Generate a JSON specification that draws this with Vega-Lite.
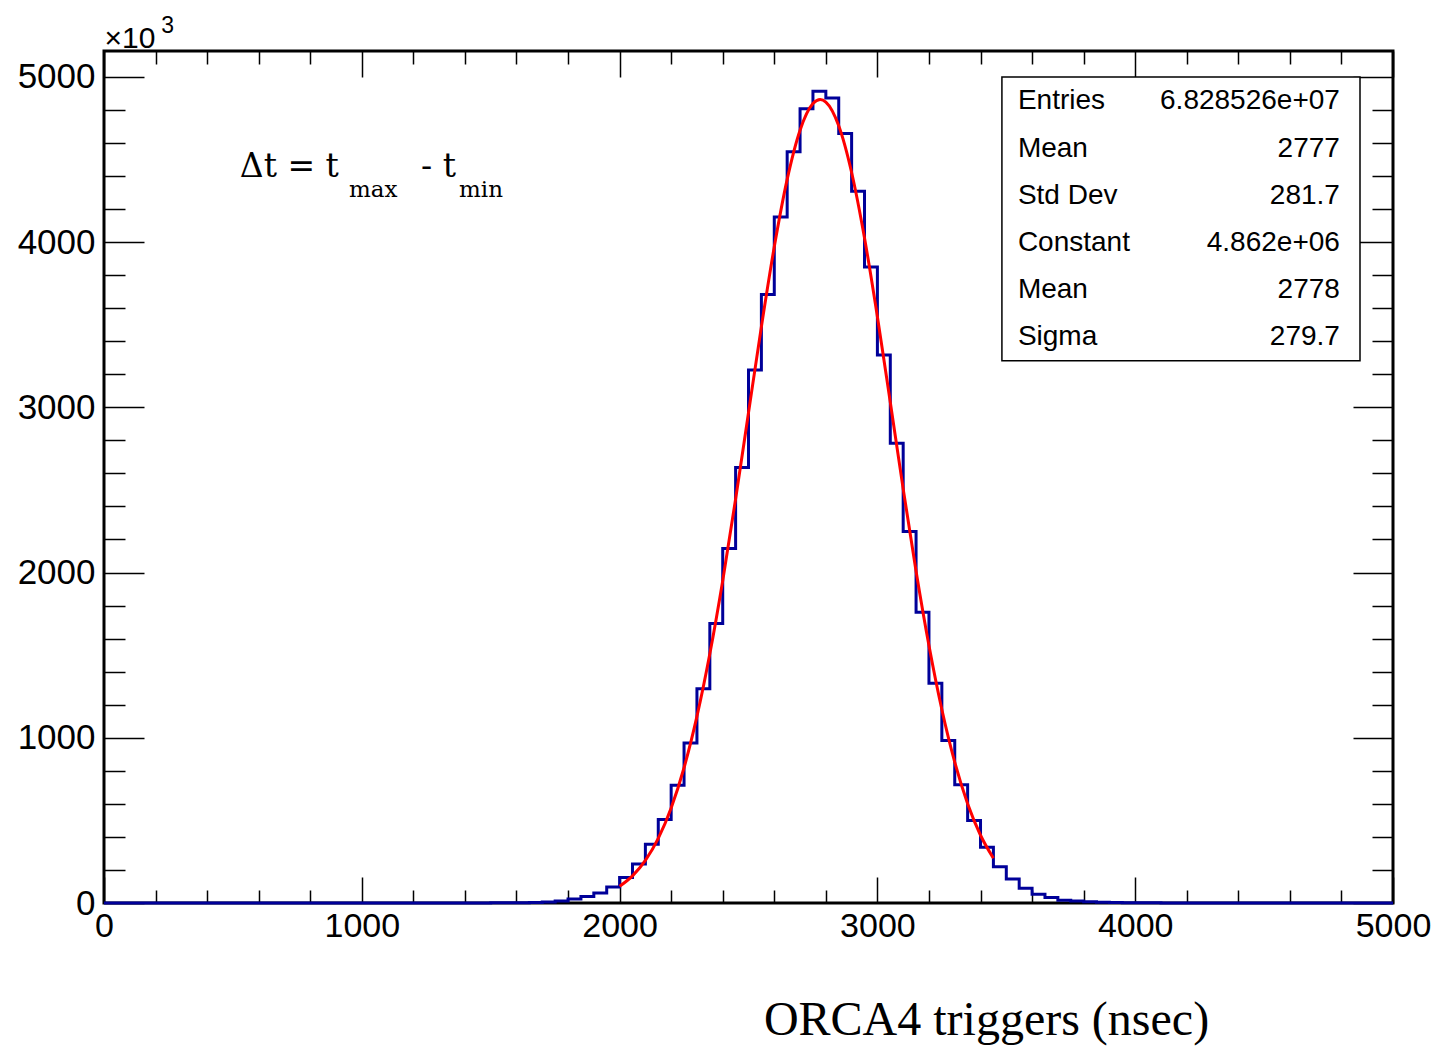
{
  "$schema": "https://vega.github.io/schema/vega-lite/v6.json",
  "width": 1289,
  "height": 852,
  "autosize": {"type": "none"},
  "padding": {"left": 104, "top": 51, "right": 40, "bottom": 148},
  "background": "white",
  "config": {
    "view": {"stroke": "black", "strokeWidth": 3},
    "axis": {"grid": false, "domain": false, "tickColor": "black", "tickWidth": 1.5, "labelColor": "black", "titleColor": "black"}
  },
  "datasets": {
    "hist": [
      {"t": 0, "count": 0}, {"t": 50, "count": 0}, {"t": 100, "count": 0}, {"t": 150, "count": 0}, {"t": 200, "count": 0},
      {"t": 250, "count": 0}, {"t": 300, "count": 0}, {"t": 350, "count": 0}, {"t": 400, "count": 0}, {"t": 450, "count": 0},
      {"t": 500, "count": 0}, {"t": 550, "count": 0}, {"t": 600, "count": 0}, {"t": 650, "count": 0}, {"t": 700, "count": 0},
      {"t": 750, "count": 0}, {"t": 800, "count": 0}, {"t": 850, "count": 0}, {"t": 900, "count": 0}, {"t": 950, "count": 0},
      {"t": 1000, "count": 0}, {"t": 1050, "count": 0}, {"t": 1100, "count": 0}, {"t": 1150, "count": 0}, {"t": 1200, "count": 0},
      {"t": 1250, "count": 0}, {"t": 1300, "count": 0}, {"t": 1350, "count": 0}, {"t": 1400, "count": 0}, {"t": 1450, "count": 0},
      {"t": 1500, "count": 1}, {"t": 1550, "count": 1}, {"t": 1600, "count": 2}, {"t": 1650, "count": 3}, {"t": 1700, "count": 6},
      {"t": 1750, "count": 12}, {"t": 1800, "count": 24}, {"t": 1850, "count": 40}, {"t": 1900, "count": 60}, {"t": 1950, "count": 97},
      {"t": 2000, "count": 155}, {"t": 2050, "count": 236}, {"t": 2100, "count": 356}, {"t": 2150, "count": 505}, {"t": 2200, "count": 713},
      {"t": 2250, "count": 969}, {"t": 2300, "count": 1297}, {"t": 2350, "count": 1692}, {"t": 2400, "count": 2146}, {"t": 2450, "count": 2635},
      {"t": 2500, "count": 3225}, {"t": 2550, "count": 3683}, {"t": 2600, "count": 4152}, {"t": 2650, "count": 4546}, {"t": 2700, "count": 4806},
      {"t": 2750, "count": 4912}, {"t": 2800, "count": 4872}, {"t": 2850, "count": 4657}, {"t": 2900, "count": 4308}, {"t": 2950, "count": 3849},
      {"t": 3000, "count": 3317}, {"t": 3050, "count": 2782}, {"t": 3100, "count": 2248}, {"t": 3150, "count": 1760}, {"t": 3200, "count": 1330},
      {"t": 3250, "count": 983}, {"t": 3300, "count": 715}, {"t": 3350, "count": 499}, {"t": 3400, "count": 338}, {"t": 3450, "count": 220},
      {"t": 3500, "count": 145}, {"t": 3550, "count": 89}, {"t": 3600, "count": 53}, {"t": 3650, "count": 33}, {"t": 3700, "count": 16},
      {"t": 3750, "count": 12}, {"t": 3800, "count": 8}, {"t": 3850, "count": 5}, {"t": 3900, "count": 3}, {"t": 3950, "count": 2},
      {"t": 4000, "count": 1}, {"t": 4050, "count": 1}, {"t": 4100, "count": 0}, {"t": 4150, "count": 0}, {"t": 4200, "count": 0},
      {"t": 4250, "count": 0}, {"t": 4300, "count": 0}, {"t": 4350, "count": 0}, {"t": 4400, "count": 0}, {"t": 4450, "count": 0},
      {"t": 4500, "count": 0}, {"t": 4550, "count": 0}, {"t": 4600, "count": 0}, {"t": 4650, "count": 0}, {"t": 4700, "count": 0},
      {"t": 4750, "count": 0}, {"t": 4800, "count": 0}, {"t": 4850, "count": 0}, {"t": 4900, "count": 0}, {"t": 4950, "count": 0},
      {"t": 5000, "count": 0}
    ],
    "fit": [
      {"t": 2000, "f": 101.5}, {"t": 2050, "f": 164.3}, {"t": 2100, "f": 257.7}, {"t": 2150, "f": 390.9}, {"t": 2200, "f": 574.8},
      {"t": 2250, "f": 818.5}, {"t": 2300, "f": 1128.9}, {"t": 2350, "f": 1507.9}, {"t": 2400, "f": 1950.7}, {"t": 2450, "f": 2444.5},
      {"t": 2500, "f": 2966.7}, {"t": 2550, "f": 3487.6}, {"t": 2600, "f": 3970.7}, {"t": 2650, "f": 4378.7}, {"t": 2700, "f": 4676.6},
      {"t": 2750, "f": 4837.7}, {"t": 2778, "f": 4862}, {"t": 2800, "f": 4847.0}, {"t": 2850, "f": 4703.6}, {"t": 2900, "f": 4420.8},
      {"t": 2950, "f": 4024.4}, {"t": 3000, "f": 3548.2}, {"t": 3050, "f": 3030.1}, {"t": 3100, "f": 2506.3}, {"t": 3150, "f": 2007.7},
      {"t": 3200, "f": 1557.8}, {"t": 3250, "f": 1170.7}, {"t": 3300, "f": 852.2}, {"t": 3350, "f": 600.7}, {"t": 3400, "f": 410.1},
      {"t": 3450, "f": 271.3}
    ],
    "stats": [
      {"label": "Entries", "value": "6.828526e+07", "line": 0},
      {"label": "Mean", "value": "2777", "line": 1},
      {"label": "Std Dev", "value": "281.7", "line": 2},
      {"label": "Constant", "value": "4.862e+06", "line": 3},
      {"label": "Mean", "value": "2778", "line": 4},
      {"label": "Sigma", "value": "279.7", "line": 5}
    ]
  },
  "layer": [
    {
      "data": {"name": "hist"},
      "mark": {"type": "line", "interpolate": "step-after", "color": "#000099", "strokeWidth": 3},
      "encoding": {
        "x": {
          "field": "t", "type": "quantitative",
          "scale": {"domain": [0, 5000], "nice": false, "zero": false},
          "axis": {
            "orient": "bottom",
            "values": [0,200,400,600,800,1000,1200,1400,1600,1800,2000,2200,2400,2600,2800,3000,3200,3400,3600,3800,4000,4200,4400,4600,4800,5000],
            "format": "d",
            "labelExpr": "datum.value % 1000 === 0 ? datum.label : ''",
            "tickSize": {"condition": {"test": "datum.value % 1000 === 0", "value": -26}, "value": -13},
            "labelFont": "Liberation Sans", "labelFontSize": 34, "labelPadding": 32,
            "labelFlush": false, "labelOverlap": false, "labelBound": false,
            "title": "ORCA4 triggers (nsec)", "titleFont": "Liberation Serif", "titleFontSize": 48, "titleFontWeight": "normal",
            "titleX": 882, "titleY": 131, "titleAlign": "center", "titleBaseline": "alphabetic"
          }
        },
        "y": {
          "field": "count", "type": "quantitative",
          "scale": {"domain": [0, 5156], "nice": false},
          "axis": {
            "orient": "left",
            "values": [0,200,400,600,800,1000,1200,1400,1600,1800,2000,2200,2400,2600,2800,3000,3200,3400,3600,3800,4000,4200,4400,4600,4800,5000],
            "format": "d",
            "labelExpr": "datum.value % 1000 === 0 ? datum.label : ''",
            "tickSize": {"condition": {"test": "datum.value % 1000 === 0", "value": -40}, "value": -21},
            "labelFont": "Liberation Sans", "labelFontSize": 35, "labelPadding": 49,
            "labelFlush": false, "labelOverlap": false, "labelBound": false,
            "title": "×10", "titleFont": "Liberation Sans", "titleFontSize": 30, "titleFontWeight": "normal",
            "titleAngle": 0, "titleX": 0, "titleY": -4, "titleAlign": "left", "titleBaseline": "alphabetic"
          }
        }
      }
    },
    {
      "data": {"name": "fit"},
      "mark": {"type": "line", "interpolate": "monotone", "color": "#ff0000", "strokeWidth": 3},
      "encoding": {
        "x": {
          "field": "t", "type": "quantitative",
          "scale": {"domain": [0, 5000], "nice": false, "zero": false},
          "axis": {
            "orient": "top",
            "values": [0,200,400,600,800,1000,1200,1400,1600,1800,2000,2200,2400,2600,2800,3000,3200,3400,3600,3800,4000,4200,4400,4600,4800,5000],
            "tickSize": {"condition": {"test": "datum.value % 1000 === 0", "value": -26}, "value": -13},
            "labels": false, "title": null
          }
        },
        "y": {
          "field": "f", "type": "quantitative",
          "scale": {"domain": [0, 5156], "nice": false},
          "axis": {
            "orient": "right",
            "values": [0,200,400,600,800,1000,1200,1400,1600,1800,2000,2200,2400,2600,2800,3000,3200,3400,3600,3800,4000,4200,4400,4600,4800,5000],
            "tickSize": {"condition": {"test": "datum.value % 1000 === 0", "value": -40}, "value": -21},
            "labels": false, "title": null
          }
        }
      }
    },
    {
      "data": {"values": [{"box": "stats"}]},
      "mark": {"type": "rect", "fill": "white", "stroke": "black", "strokeWidth": 1.5},
      "encoding": {
        "x": {"datum": 3483, "type": "quantitative", "axis": null},
        "x2": {"datum": 4872},
        "y": {"datum": 4999, "type": "quantitative", "axis": null},
        "y2": {"datum": 3281}
      }
    },
    {
      "data": {"name": "stats"},
      "mark": {"type": "text", "align": "left", "baseline": "alphabetic", "font": "Liberation Sans", "fontSize": 28, "color": "black"},
      "encoding": {
        "x": {"datum": 3545, "type": "quantitative", "axis": null},
        "y": {"datum": 4803, "type": "quantitative", "axis": null},
        "yOffset": {"field": "line", "type": "quantitative", "scale": {"domain": [0, 5], "range": [0, 236]}},
        "text": {"field": "label", "type": "nominal"}
      }
    },
    {
      "data": {"name": "stats"},
      "mark": {"type": "text", "align": "right", "baseline": "alphabetic", "font": "Liberation Sans", "fontSize": 28, "color": "black"},
      "encoding": {
        "x": {"datum": 4794, "type": "quantitative", "axis": null},
        "y": {"datum": 4803, "type": "quantitative", "axis": null},
        "yOffset": {"field": "line", "type": "quantitative", "scale": {"domain": [0, 5], "range": [0, 236]}},
        "text": {"field": "value", "type": "nominal"}
      }
    },
    {
      "data": {"values": [{"part": "exponent"}]},
      "mark": {"type": "text", "align": "left", "baseline": "alphabetic", "font": "Liberation Sans", "fontSize": 23, "color": "black", "text": "3"},
      "encoding": {
        "x": {"datum": 222, "type": "quantitative", "axis": null},
        "y": {"datum": 5262, "type": "quantitative", "axis": null}
      }
    },
    {
      "data": {"values": [{"part": "main"}]},
      "mark": {"type": "text", "align": "left", "baseline": "alphabetic", "font": "DejaVu Serif", "fontSize": 33, "color": "black", "text": "Δt = t"},
      "encoding": {
        "x": {"datum": 527, "type": "quantitative", "axis": null},
        "y": {"datum": 4394, "type": "quantitative", "axis": null}
      }
    },
    {
      "data": {"values": [{"part": "sub1"}]},
      "mark": {"type": "text", "align": "left", "baseline": "alphabetic", "font": "DejaVu Serif", "fontSize": 23, "color": "black", "text": "max"},
      "encoding": {
        "x": {"datum": 950, "type": "quantitative", "axis": null},
        "y": {"datum": 4274, "type": "quantitative", "axis": null}
      }
    },
    {
      "data": {"values": [{"part": "minus"}]},
      "mark": {"type": "text", "align": "left", "baseline": "alphabetic", "font": "DejaVu Serif", "fontSize": 33, "color": "black", "text": "- t"},
      "encoding": {
        "x": {"datum": 1230, "type": "quantitative", "axis": null},
        "y": {"datum": 4394, "type": "quantitative", "axis": null}
      }
    },
    {
      "data": {"values": [{"part": "sub2"}]},
      "mark": {"type": "text", "align": "left", "baseline": "alphabetic", "font": "DejaVu Serif", "fontSize": 23, "color": "black", "text": "min"},
      "encoding": {
        "x": {"datum": 1377, "type": "quantitative", "axis": null},
        "y": {"datum": 4274, "type": "quantitative", "axis": null}
      }
    }
  ],
  "resolve": {"axis": {"x": "independent", "y": "independent"}}
}
